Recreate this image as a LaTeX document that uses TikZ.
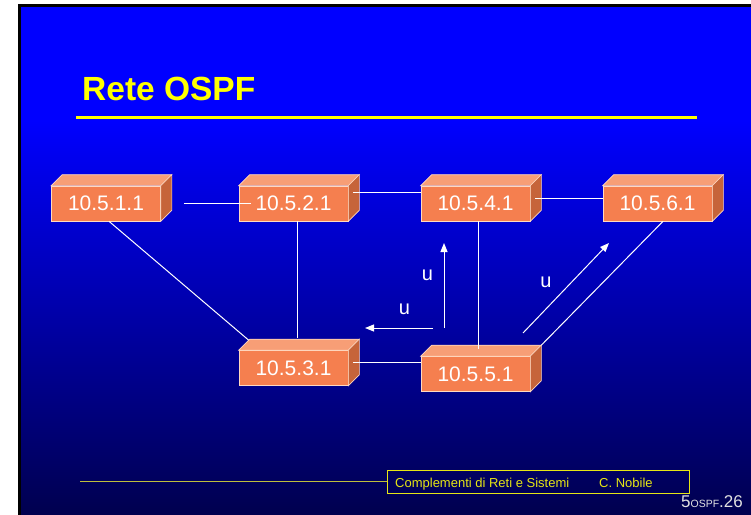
\documentclass[tikz,border=0pt]{standalone}
\usepackage{fontspec}
\setmainfont{Liberation Sans}
\usetikzlibrary{arrows.meta}

\definecolor{slidetop}{RGB}{0,0,255}
\definecolor{slidebottom}{RGB}{0,0,76}
\definecolor{front}{RGB}{245,127,79}
\definecolor{topc}{RGB}{247,158,118}
\definecolor{sidec}{RGB}{198,100,58}
\definecolor{boxedge}{RGB}{255,216,192}
\definecolor{titleyellow}{RGB}{255,255,0}
\definecolor{footyellow}{RGB}{230,230,20}
\definecolor{footline}{RGB}{190,190,60}
\definecolor{pagegrey}{RGB}{225,225,225}

\tikzset{
  router/.style={draw=boxedge, line width=0.6pt, fill=front, minimum width=109pt,
    minimum height=35pt, inner sep=0pt, text=white, font=\fontsize{21}{21}\selectfont},
  topface/.style={draw=boxedge, line width=0.6pt, fill=topc},
  sideface/.style={draw=boxedge, line width=0.6pt, fill=sidec},
  link/.style={draw=white, line width=1pt},
  flow/.style={draw=white, line width=1pt, -{Triangle[length=9pt,width=7pt]}},
  flowlabel/.style={text=white, inner sep=0pt, font=\fontsize{20}{20}\selectfont},
  foottext/.style={anchor=base west, inner sep=0pt, text=footyellow, font=\fontsize{13}{13}\selectfont}
}

\begin{document}
\begin{tikzpicture}[x=1pt,y=-1pt]
\useasboundingbox (0,0) rectangle (751,514);

% slide background with frame and vertical gradient
\begin{scope}
  \clip (0,0) rectangle (751,514);
  \fill[white] (0,0) rectangle (751,514);
  \fill[black] (18,4) rectangle (760,520);
  \fill[slidetop] (21,7) rectangle (760,121);
  \shade[top color=slidetop, bottom color=slidebottom] (21,120) rectangle (760,520);
\end{scope}

% title
\node[anchor=base west, inner sep=0pt, text=titleyellow,
  font=\bfseries\fontsize{33.5}{33.5}\selectfont] (title) at (82,100) {Rete OSPF};
\fill[titleyellow] (76,116) rectangle (697,119);

% routers (front faces)
\node[router] (r1) at (106,203.5) {10.5.1.1};
\node[router] (r2) at (293.5,203.5) {10.5.2.1};
\node[router] (r4) at (475.5,203.5) {10.5.4.1};
\node[router] (r6) at (657.5,203.5) {10.5.6.1};
\node[router] (r3) at (293.5,368) {10.5.3.1};
\node[router] (r5) at (475.5,374) {10.5.5.1};

% top and side faces of each router block
\foreach \n in {r1,r2,r3,r4,r5,r6}{
  \filldraw[topface] (\n.north west) -- ++(11pt,11pt)
    -- ([shift={(11pt,11pt)}]\n.north east) -- (\n.north east) -- cycle;
  \filldraw[sideface] (\n.north east) -- ++(11pt,11pt)
    -- ([shift={(11pt,11pt)}]\n.south east) -- (\n.south east) -- cycle;
}

% links between routers
\draw[link] ([xshift=23pt]r1.east) -- ([xshift=12pt]r2.west);
\draw[link] ([shift={(5pt,11.5pt)}]r2.east) -- ([yshift=11.5pt]r4.west);
\draw[link] ([shift={(5pt,5.5pt)}]r4.east) -- ([yshift=5.5pt]r6.west);
\draw[link] ([xshift=3pt]r1.south) -- ([shift={(10pt,10pt)}]r3.north west);
\draw[link] ([xshift=3.5pt]r2.south) -- ([shift={(3.5pt,12pt)}]r3.north);
\draw[link] ([xshift=2.5pt]r4.south) -- ([shift={(2.5pt,7pt)}]r5.north);
\draw[link] ([shift={(5pt,6pt)}]r3.east) -- ([yshift=12pt]r5.west);
\draw[link] ([shift={(11pt,11pt)}]r5.north east) -- ([xshift=5.5pt]r6.south);

% update flows
\coordinate (upS) at (444,328);
\coordinate (upE) at (444,243);
\coordinate (leftS) at (433,328);
\coordinate (leftE) at (365,328);
\coordinate (diagS) at (523,333);
\coordinate (diagE) at (609,243);
\draw[flow] (upS) -- (upE);
\draw[flow] (leftS) -- (leftE);
\draw[flow] (diagS) -- (diagE);
\node[flowlabel] (u1) at (427.5,275) {u};
\node[flowlabel] (u2) at (404.5,309) {u};
\node[flowlabel] (u3) at (546,282) {u};

% footer
\node[draw=footyellow, line width=0.8pt, minimum width=302pt, minimum height=23pt,
  inner sep=0pt] (foot) at (538,481.5) {};
\coordinate (footstart) at (80,481.5);
\draw[footline, line width=0.8pt] (footstart) -- (foot.west);
\node[foottext] (course) at (395,487) {Complementi di Reti e Sistemi};
\node[foottext] (author) at (599,487) {C. Nobile};
\node[anchor=base east, inner sep=0pt, text=pagegrey] (pageno) at (743,507)
  {\fontsize{17}{17}\selectfont 5{\fontsize{10.5}{10.5}\selectfont OSPF}.26};
\end{tikzpicture}
\end{document}
